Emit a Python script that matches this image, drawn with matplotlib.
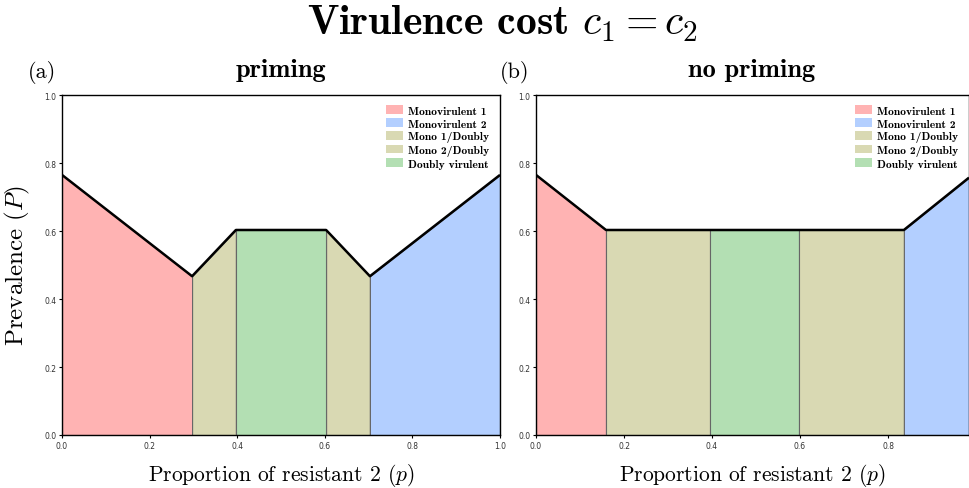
import matplotlib.pyplot as plt
from matplotlib.patches import Patch

plt.rcParams['mathtext.fontset'] = 'cm'
plt.rcParams['axes.unicode_minus'] = False

# 区域边界 (p) 与上沿 (P)
p_priming = [0.0, 0.297, 0.397, 0.603, 0.703, 1.0]
P_priming = [0.765, 0.467, 0.603, 0.603, 0.467, 0.765]
p_nopriming = [0.0, 0.159, 0.395, 0.598, 0.836, 0.984]
P_nopriming = [0.765, 0.603, 0.603, 0.603, 0.603, 0.757]

# 每段对应的类型
segments = ['Monovirulent 1', 'Mono 1/Doubly', 'Doubly virulent', 'Mono 2/Doubly', 'Monovirulent 2']
legend_order = ['Monovirulent 1', 'Monovirulent 2', 'Mono 1/Doubly', 'Mono 2/Doubly', 'Doubly virulent']
colors = {
    'Monovirulent 1': '#ffb3b3',
    'Monovirulent 2': '#b3cfff',
    'Mono 1/Doubly': '#d9d9b3',
    'Mono 2/Doubly': '#d9d9b3',
    'Doubly virulent': '#b3dfb3',
}

fig = plt.figure(figsize=(9.69, 4.89), dpi=100)
ax1 = fig.add_axes([62/969, 1-436/489, 438/969, 340/489])
ax2 = fig.add_axes([536/969, 1-436/489, 433/969, 340/489])


def draw(ax, p, P, xmax):
    for i, name in enumerate(segments):
        ax.fill_between(p[i:i+2], [0, 0], P[i:i+2], color=colors[name],
                        edgecolor='#666666', linewidth=0.8)
    ax.plot(p, P, color='black', lw=1.8, solid_capstyle='butt')
    ax.set_xlim(0, xmax)
    ax.set_ylim(0, 1)
    ax.set_xticks([0, 0.2, 0.4, 0.6, 0.8, 1.0] if xmax >= 1 else [0, 0.2, 0.4, 0.6, 0.8])
    ax.set_yticks([0, 0.2, 0.4, 0.6, 0.8, 1.0])
    ax.tick_params(labelsize=5.5, length=2.5, width=0.8, pad=1.5, labelcolor='#333333')
    for s in ax.spines.values():
        s.set_linewidth(1.0)
    ax.set_xlabel('Proportion of resistant 2 ($p$)', fontsize=15.5, family='cmr10', labelpad=8)
    handles = [Patch(facecolor=colors[n], label=n) for n in legend_order]
    ax.legend(handles=handles, loc='upper right', frameon=False,
              prop={'family': 'cmb10', 'size': 8.3}, handlelength=1.4, handleheight=0.8,
              labelspacing=0.2, handletextpad=0.5, borderaxespad=0.5)


draw(ax1, p_priming, P_priming, 1.0)
draw(ax2, p_nopriming, P_nopriming, 0.984)

ax1.set_ylabel('Prevalence ($P$)', fontsize=18, family='cmr10', labelpad=9)

fig.text(503/969, 1-35/489, r'Virulence cost $c_1 = c_2$', ha='center', va='baseline',
         fontsize=30, family='cmb10')
fig.text(281/969, 1-77/489, 'priming', ha='center', va='baseline', fontsize=19, family='cmb10')
fig.text(752/969, 1-77/489, 'no priming', ha='center', va='baseline', fontsize=19, family='cmb10')
fig.text(42/969, 1-78/489, '(a)', ha='center', va='baseline', fontsize=16, family='cmr10')
fig.text(515/969, 1-78/489, '(b)', ha='center', va='baseline', fontsize=16, family='cmr10')

fig.savefig('out.png', dpi=100)
